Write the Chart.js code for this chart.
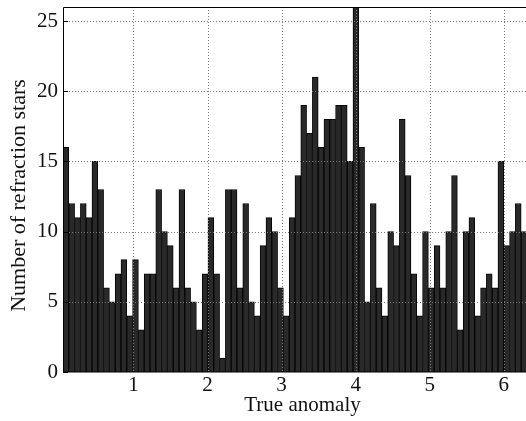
<!DOCTYPE html>
<html>
<head>
<meta charset="utf-8">
<script src="https://cdn.jsdelivr.net/npm/chart.js@4/dist/chart.umd.min.js"></script>
<style>
  html, body { margin: 0; padding: 0; background: #fff; }
  canvas { display: block; }
</style>
</head>
<body>
<canvas id="chart" width="526" height="421"></canvas>
<script>
// Histogram bins: first edge and width (radians), 80 bins
const binStart = 0.049
const binWidth = 0.0783

// Counts per bin, read left to right
const counts = [
  16, 12, 11, 12, 11, 15, 13, 6, 5, 7,
  8, 4, 8, 3, 7, 7, 13, 10, 9, 6,
  13, 6, 5, 3, 7, 11, 7, 1, 13, 13,
  6, 12, 5, 4, 9, 11, 10, 6, 4, 11,
  14, 19, 17, 21, 16, 18, 18, 19, 19, 15,
  26, 16, 5, 12, 6, 4, 10, 9, 18, 14,
  7, 4, 10, 6, 9, 6, 10, 14, 3, 10,
  11, 4, 6, 7, 6, 15, 9, 10, 12, 10
]

const xTicks = [1, 2, 3, 4, 5, 6]
const yTicks = [0, 5, 10, 15, 20, 25]

const xTitle = 'True anomaly'
const yTitle = 'Number of refraction stars'

const FONT = '"Liberation Serif", "Times New Roman", serif'

const points = counts.map((c, i) => ({ x: binStart + (i + 0.5) * binWidth, y: c }))

// Dotted grid drawn over the bars, the frame, inward ticks and axis titles.
// The titles sit a little off the axes' centre, as in the original figure.
const overlay = {
  id: 'overlay',
  afterDatasetsDraw(chart) {
    const { ctx, chartArea: a, scales } = chart
    ctx.save()
    ctx.strokeStyle = '#7a7a7a'
    ctx.lineWidth = 1
    ctx.setLineDash([1, 2])
    xTicks.forEach((v) => {
      const px = Math.round(scales.x.getPixelForValue(v)) + 0.5
      ctx.beginPath()
      ctx.moveTo(px, a.top)
      ctx.lineTo(px, a.bottom)
      ctx.stroke()
    })
    yTicks.slice(1).forEach((v) => {
      const py = Math.round(scales.y.getPixelForValue(v)) + 0.5
      ctx.beginPath()
      ctx.moveTo(a.left, py)
      ctx.lineTo(a.right, py)
      ctx.stroke()
    })
    ctx.setLineDash([])
    ctx.strokeStyle = '#000'
    ctx.beginPath()
    ctx.moveTo(a.right, a.top + 0.5)
    ctx.lineTo(a.left + 0.5, a.top + 0.5)
    ctx.lineTo(a.left + 0.5, a.bottom)
    ctx.lineTo(a.right, a.bottom)
    ctx.stroke()
    yTicks.forEach((v) => {
      const py = Math.round(scales.y.getPixelForValue(v)) + 0.5
      ctx.beginPath()
      ctx.moveTo(a.left, py)
      ctx.lineTo(a.left + 5, py)
      ctx.stroke()
    })

    ctx.fillStyle = '#111'
    ctx.font = '21px ' + FONT
    ctx.textAlign = 'center'
    ctx.textBaseline = 'middle'
    ctx.fillText(xTitle, (a.left + a.right) / 2 + 8, 405)
    ctx.translate(19, (a.top + a.bottom) / 2 + 6)
    ctx.rotate(-Math.PI / 2)
    ctx.font = '22px ' + FONT
    ctx.fillText(yTitle, 0, 0)
    ctx.restore()
  },
}

new Chart(document.getElementById('chart'), {
  type: 'bar',
  data: {
    datasets: [
      {
        data: points,
        backgroundColor: '#292929',
        borderColor: '#050505',
        borderWidth: 1,
        barPercentage: 1,
        categoryPercentage: 1,
      },
    ],
  },
  options: {
    responsive: false,
    animation: false,
    layout: { padding: { top: 7, right: 0, left: 0, bottom: 0 } },
    plugins: {
      legend: { display: false },
      tooltip: { enabled: false },
    },
    scales: {
      x: {
        type: 'linear',
        offset: false,
        min: binStart,
        max: 6.3,
        grid: { display: false, offset: false, drawTicks: false, tickLength: 0 },
        border: { display: false },
        afterBuildTicks(scale) {
          scale.ticks = xTicks.map((v) => ({ value: v }))
        },
        ticks: {
          color: '#111',
          font: { family: FONT, size: 21 },
          padding: 1,
          maxRotation: 0,
        },
        afterFit(scale) {
          scale.height = 49
          scale.paddingLeft = 0
          scale.paddingRight = 0
        },
      },
      y: {
        min: 0,
        max: 26,
        grid: { display: false, drawTicks: false, tickLength: 0 },
        border: { display: false },
        afterBuildTicks(scale) {
          scale.ticks = yTicks.map((v) => ({ value: v }))
        },
        ticks: {
          color: '#111',
          font: { family: FONT, size: 21 },
          padding: 5,
        },
        afterFit(scale) {
          scale.width = 63
          scale.paddingTop = 0
          scale.paddingBottom = 0
        },
      },
    },
  },
  plugins: [overlay],
})
</script>
</body>
</html>
